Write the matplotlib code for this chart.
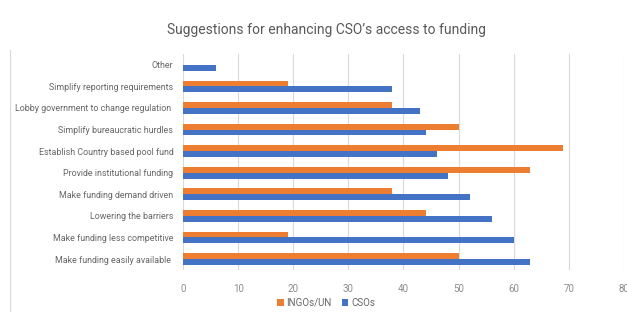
import matplotlib
matplotlib.use('Agg')
import matplotlib.pyplot as plt
import numpy as np

plt.rcParams['font.family'] = ['Roboto', 'DejaVu Sans']

# categories from bottom to top
categories = ['Make funding easily available ', 'Make funding less competitive', 'Lowering the barriers',
              'Make funding demand driven', 'Provide institutional funding', 'Establish Country based pool fund',
              'Simplify bureaucratic hurdles', 'Lobby government to change regulation ',
              'Simplify reporting requirements', 'Other']
ingos = [50, 19, 44, 38, 63, 69, 50, 38, 19, 0]
csos = [63, 60, 56, 52, 48, 46, 44, 43, 38, 6]
xticks = [0, 10, 20, 30, 40, 50, 60, 70, 80]

fig = plt.figure(figsize=(6.27, 3.12), dpi=100)
ax = fig.add_axes([0.292, 0.135, 0.703, 0.692])

y = np.arange(len(categories))
h = 0.27
ax.barh(y + h / 2, ingos, height=h, color='#ED7D31', label='INGOs/UN', zorder=3)
ax.barh(y - h / 2, csos, height=h, color='#4472C4', label='CSOs', zorder=3)

ax.set_xlim(0, 80)
ax.set_ylim(-0.5, len(categories) - 0.5)
ax.set_xticks(xticks)
ax.set_yticks(y)
ax.set_yticklabels(categories, fontsize=6.4, color='#666666')
ax.tick_params(axis='x', labelsize=7, labelcolor='#8c8c8c', length=0, pad=10)
ax.tick_params(axis='y', length=0, pad=7)
ax.grid(axis='x', color='#d9d9d9', linewidth=0.8, zorder=0)
for s in ax.spines.values():
    s.set_visible(False)

fig.suptitle('Suggestions for enhancing CSO\u2019s access to funding', x=0.52, y=0.925,
             fontsize=10, color='#595959')
fig.legend(loc='center', bbox_to_anchor=(0.52, 0.03), ncol=2, frameon=False,
           fontsize=7, handlelength=0.7, handleheight=0.7, handletextpad=0.3,
           columnspacing=1.0, labelcolor='#666666')

# left border of the chart area
fig.add_artist(plt.Line2D([0.016, 0.016], [0.0, 0.84], color='#d9d9d9', linewidth=0.8))

fig.savefig('out.png', dpi=100)
